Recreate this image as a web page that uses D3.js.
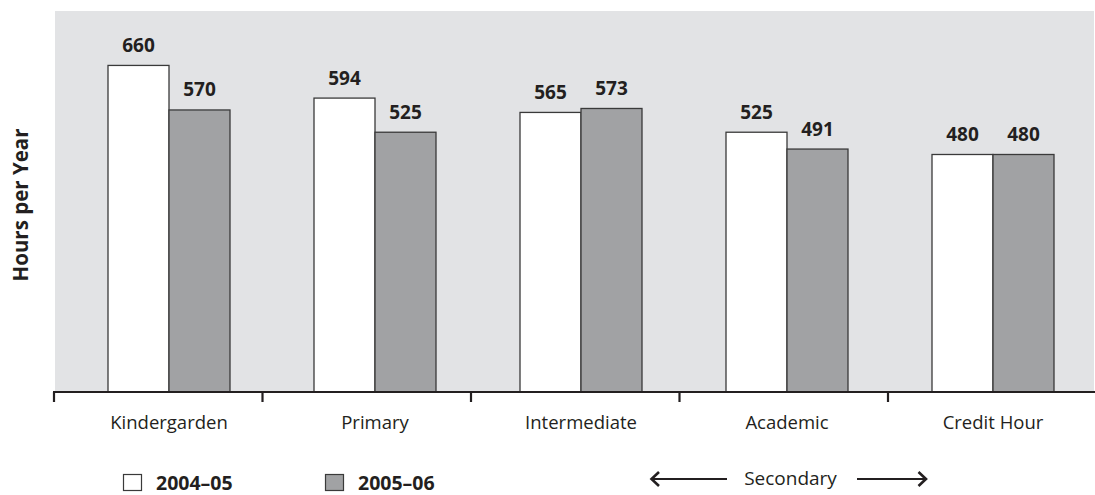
<!DOCTYPE html>
<html>
<head>
<meta charset="utf-8">
<script src="https://cdn.jsdelivr.net/npm/d3@7"></script>
<style>
  html, body { margin: 0; padding: 0; background: #ffffff; }
  svg { display: block; }
  text { font-family: "Open Sans", "Noto Sans", sans-serif; fill: #231f20; }
</style>
</head>
<body>
<svg id="chart" width="1095" height="495"></svg>
<script>
// Instructional hours per year by school level
const categories = ["Kindergarden", "Primary", "Intermediate", "Academic", "Credit Hour"];
const seriesNames = ["2004\u201305", "2005\u201306"];
const values2004 = [660, 594, 565, 525, 480];
const values2005 = [570, 525, 573, 491, 480];
const yTitle = "Hours per Year";
const groupNote = "Secondary";

const seriesValues = [values2004, values2005];
const seriesFill = ["#ffffff", "#a1a2a4"];
const strokeColor = "#3a3a3a";

const svg = d3.select("#chart");

const plot = { left: 55, right: 1094, top: 11, bottom: 392 };

const y = d3.scaleLinear().domain([0, 770]).range([plot.bottom, plot.top]);

// Axis divisions (tick marks between categories)
const xAxisBand = d3.scaleBand().domain(categories).range([54, 1096.5]).padding(0);
// Bar group placement
const xGroup = d3.scaleBand().domain(categories).range([66, 1096]).padding(0);
const barW = 61;
const xSeries = d3.scaleBand().domain(seriesNames).range([-barW, barW]).padding(0);
const groupCenter = c => xGroup(c) + xGroup.bandwidth() / 2;

// Plot background
svg.append("rect")
  .attr("x", plot.left).attr("y", plot.top)
  .attr("width", plot.right - plot.left).attr("height", plot.bottom - plot.top)
  .attr("fill", "#e2e3e5");

// Bars
const rows = [];
categories.forEach((c, i) => {
  seriesNames.forEach((s, j) => rows.push({ cat: c, series: s, j, value: seriesValues[j][i] }));
});

svg.append("g").selectAll("rect").data(rows).join("rect")
  .attr("x", d => groupCenter(d.cat) + xSeries(d.series))
  .attr("y", d => y(d.value))
  .attr("width", xSeries.bandwidth())
  .attr("height", d => y(0) - y(d.value))
  .attr("fill", d => seriesFill[d.j])
  .attr("stroke", strokeColor)
  .attr("stroke-width", 1.3);

// Value labels
svg.append("g").selectAll("text").data(rows).join("text")
  .attr("x", d => groupCenter(d.cat) + xSeries(d.series) + xSeries.bandwidth() / 2)
  .attr("y", d => y(d.value) - 13.5)
  .attr("text-anchor", "middle")
  .style("font-size", "19px")
  .style("font-weight", "bold")
  .text(d => d.value);

// X axis line and division ticks
const axisG = svg.append("g");
axisG.append("line")
  .attr("x1", 53).attr("x2", 1095)
  .attr("y1", y(0)).attr("y2", y(0))
  .attr("stroke", "#231f20").attr("stroke-width", 2.2);
axisG.selectAll("line.tick").data(categories).join("line")
  .attr("class", "tick")
  .attr("x1", d => xAxisBand(d)).attr("x2", d => xAxisBand(d))
  .attr("y1", y(0)).attr("y2", y(0) + 10)
  .attr("stroke", "#231f20").attr("stroke-width", 2.2);

// Category labels
axisG.selectAll("text").data(categories).join("text")
  .attr("x", d => groupCenter(d))
  .attr("y", 429)
  .attr("text-anchor", "middle")
  .style("font-size", "18.5px")
  .text(d => d);

// Y axis title
svg.append("text")
  .attr("transform", "translate(28,205) rotate(-90)")
  .attr("text-anchor", "middle")
  .style("font-size", "20.5px")
  .style("font-weight", "bold")
  .text(yTitle);

// Legend
const legend = svg.append("g");
const legendX = [123.5, 325.5];
seriesNames.forEach((s, j) => {
  legend.append("rect")
    .attr("x", legendX[j]).attr("y", 474.5)
    .attr("width", 18).attr("height", 16)
    .attr("fill", seriesFill[j])
    .attr("stroke", strokeColor).attr("stroke-width", 1.2);
  legend.append("text")
    .attr("x", legendX[j] + 32.5).attr("y", 489.5)
    .style("font-size", "19.5px")
    .style("font-weight", "bold")
    .text(s);
});

// Secondary grouping note with arrows
const note = svg.append("g");
const arrowY = 479;
note.append("line").attr("x1", 651).attr("x2", 727).attr("y1", arrowY).attr("y2", arrowY)
  .attr("stroke", "#231f20").attr("stroke-width", 2.2);
note.append("path").attr("d", `M659,${arrowY - 7} L651.5,${arrowY} L659,${arrowY + 7}`)
  .attr("fill", "none").attr("stroke", "#231f20").attr("stroke-width", 2.6);
note.append("line").attr("x1", 857).attr("x2", 926).attr("y1", arrowY).attr("y2", arrowY)
  .attr("stroke", "#231f20").attr("stroke-width", 2.2);
note.append("path").attr("d", `M918.5,${arrowY - 7} L926,${arrowY} L918.5,${arrowY + 7}`)
  .attr("fill", "none").attr("stroke", "#231f20").attr("stroke-width", 2.6);
note.append("text")
  .attr("x", 790.5).attr("y", 485)
  .attr("text-anchor", "middle")
  .style("font-size", "19px")
  .text(groupNote);
</script>
</body>
</html>
